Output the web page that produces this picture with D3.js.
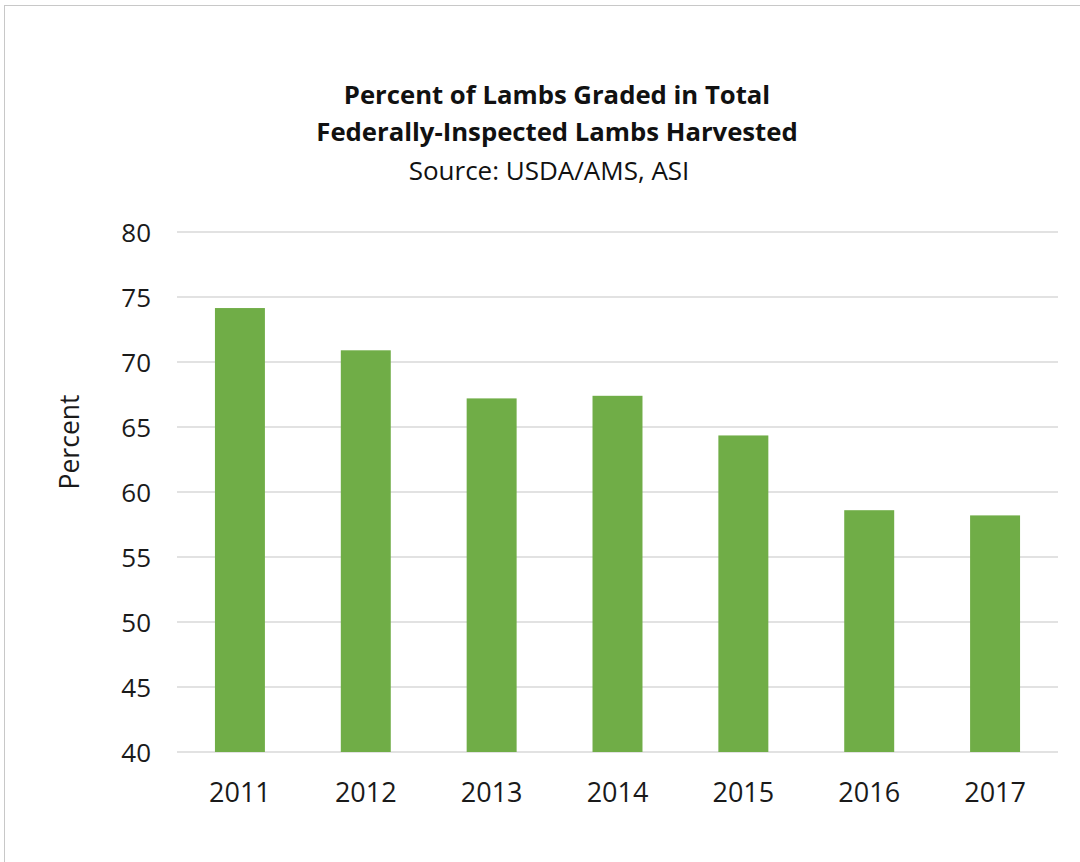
<!DOCTYPE html>
<html><head><meta charset="utf-8">
<script src="https://cdn.jsdelivr.net/npm/d3@7"></script>
<style>body{margin:0;background:#fff}svg{display:block}</style>
</head><body>
<script>
const years = ["2011","2012","2013","2014","2015","2016","2017"];
const percent = [74.15, 70.9, 67.2, 67.4, 64.35, 58.6, 58.2];
const yTicks = [40,45,50,55,60,65,70,75,80];
const titleLines = ["Percent of Lambs Graded in Total","Federally-Inspected Lambs Harvested"];
const sourceText = "Source: USDA/AMS, ASI";
const yLabel = "Percent";

(function(){
const W=1080,H=862;
const font = "'Open Sans', 'Noto Sans', sans-serif";
const svg = d3.select("body").append("svg").attr("width",W).attr("height",H);
svg.append("rect").attr("x",4.5).attr("y",5.5).attr("width",1090).attr("height",900)
  .attr("fill","#fff").attr("stroke","#c8c8c8").attr("stroke-width",1);

const pl=177,pr=1058,pt=232,pb=752;
const x = d3.scaleBand().domain(years).range([pl,pr]).paddingInner(0.603).paddingOuter(0.3015);
const y = d3.scaleLinear().domain([40,80]).range([pb,pt]);

const grid = svg.append("g");
grid.selectAll("line").data(yTicks).join("line")
  .attr("x1",pl).attr("x2",pr).attr("y1",d=>y(d)).attr("y2",d=>y(d))
  .attr("stroke","#d9d9d9").attr("stroke-width",1.3);

svg.append("g").selectAll("rect").data(years).join("rect")
  .attr("x",d=>x(d)).attr("width",x.bandwidth())
  .attr("y",(d,i)=>y(percent[i])).attr("height",(d,i)=>pb-y(percent[i]))
  .attr("fill","#70ad47");

const yAxis = d3.axisLeft(y).tickValues(yTicks).tickSize(0).tickPadding(0);
const ga = svg.append("g").attr("transform",`translate(${151},0)`).call(yAxis);
ga.select(".domain").remove();
ga.selectAll("text").attr("font-family",font).attr("font-size",26).attr("fill","#1a1a1a").attr("dy","0.36em");

const xAxis = d3.axisBottom(x).tickSize(0).tickPadding(0);
const gx = svg.append("g").attr("transform",`translate(0,${pb})`).call(xAxis);
gx.select(".domain").remove();
gx.selectAll("text").attr("font-family",font).attr("font-size",27).attr("fill","#1a1a1a").attr("dy",null).attr("y",50);

svg.append("text").attr("transform",`translate(79,442) rotate(-90)`).attr("text-anchor","middle")
  .attr("font-family",font).attr("font-size",26.5).attr("fill","#1a1a1a").text(yLabel);

const t = svg.append("g").attr("font-family",font).attr("text-anchor","middle").attr("fill","#111");
titleLines.forEach((s,i)=>t.append("text").attr("x",557).attr("y",104+i*37).attr("font-size",25.7).attr("font-weight","bold").text(s));
t.append("text").attr("x",549).attr("y",180).attr("font-size",26).text(sourceText);
})();
</script>
</body></html>
